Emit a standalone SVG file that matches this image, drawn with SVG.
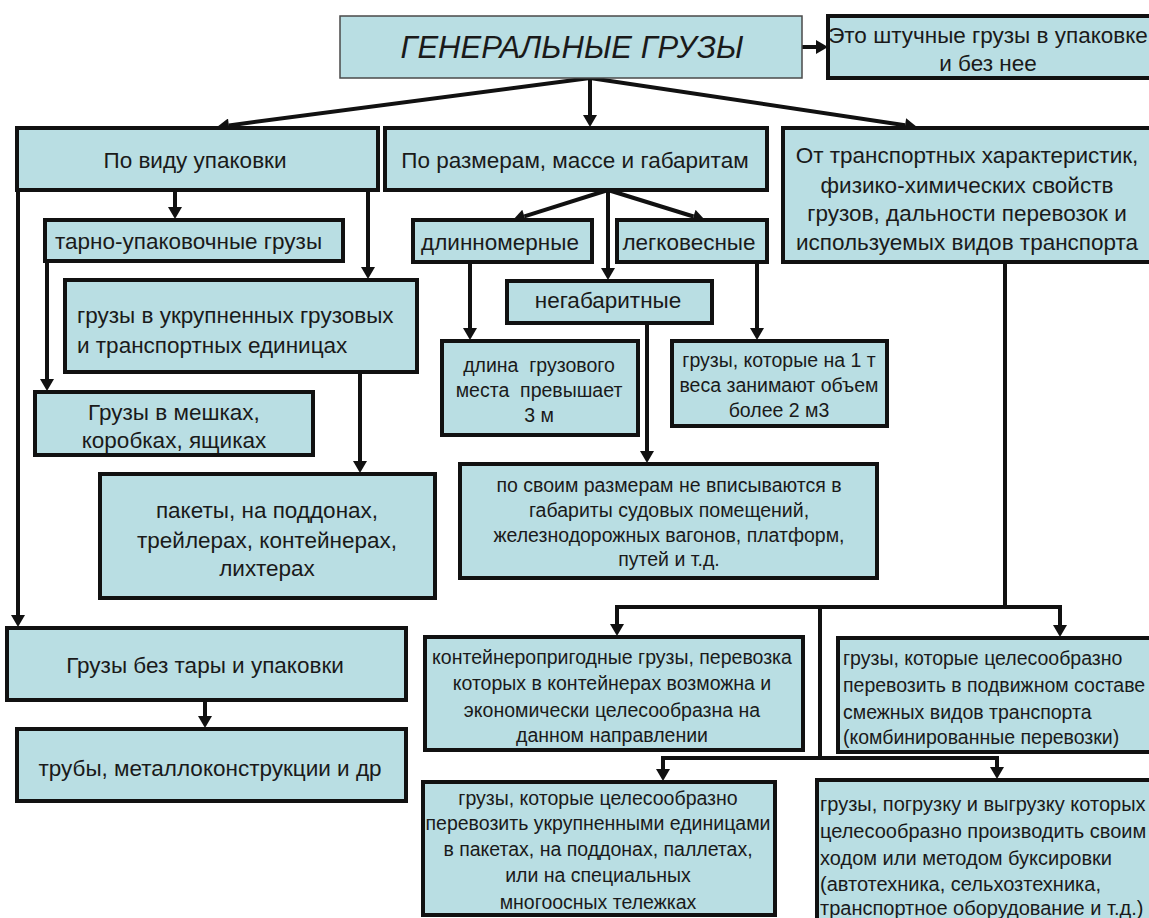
<svg xmlns="http://www.w3.org/2000/svg" width="1149" height="918" viewBox="0 0 1149 918">
  <style>
    .box { fill: #b9dee3; stroke: #111; stroke-width: 4; }
    .head { fill: #b9dee3; stroke: #4a4a4a; stroke-width: 1.5; }
    .t { font-family: "Liberation Sans", Arial, sans-serif; fill: #1a1a1a; }
    .c { text-anchor: middle; }
    .big { font-size: 22.5px; }
    .sm { font-size: 19.5px; }
    .sm2 { font-size: 20px; }
    .link { fill: none; stroke: #111; stroke-width: 4; }
    .arr { marker-end: url(#arrow); }
  </style>
  <defs>
    <marker id="arrow" markerUnits="userSpaceOnUse" markerWidth="13" markerHeight="14" viewBox="0 0 12 14" refX="0" refY="7" orient="auto">
      <path d="M0,0 L12,7 L0,14 z" fill="#111"/>
    </marker>
  </defs>
  <rect width="1149" height="918" fill="#ffffff"/>

  <!-- connectors -->
  <g id="connectors">
    <line class="link arr" x1="802" y1="47" x2="816" y2="47"/>
    <line class="link arr" x1="590" y1="78" x2="228.9" y2="125.4"/>
    <line class="link arr" x1="590" y1="78" x2="590" y2="115"/>
    <line class="link arr" x1="590" y1="78" x2="905.1" y2="125.2"/>
    <line class="link arr" x1="175" y1="190" x2="175" y2="207"/>
    <line class="link arr" x1="368" y1="190" x2="368" y2="267"/>
    <line class="link arr" x1="18" y1="190" x2="18" y2="615"/>
    <line class="link arr" x1="47" y1="261" x2="47" y2="379"/>
    <line class="link arr" x1="360" y1="372" x2="360" y2="461"/>
    <line class="link arr" x1="205" y1="700" x2="205" y2="716"/>
    <line class="link arr" x1="608" y1="190" x2="524.4" y2="216.4"/>
    <line class="link arr" x1="608" y1="190" x2="608" y2="268"/>
    <line class="link arr" x1="608" y1="190" x2="693.5" y2="216.5"/>
    <line class="link arr" x1="470" y1="262" x2="470" y2="328"/>
    <line class="link arr" x1="757" y1="262" x2="757" y2="328"/>
    <line class="link arr" x1="647" y1="323" x2="647" y2="451"/>
    <line class="link" x1="1005" y1="262" x2="1005" y2="607"/>
    <line class="link" x1="615" y1="607" x2="1062" y2="607"/>
    <line class="link arr" x1="617" y1="605" x2="617" y2="624"/>
    <line class="link arr" x1="1060" y1="605" x2="1060" y2="625"/>
    <line class="link" x1="820" y1="607" x2="820" y2="758"/>
    <line class="link" x1="661" y1="758" x2="999" y2="758"/>
    <line class="link arr" x1="663" y1="756" x2="663" y2="769"/>
    <line class="link arr" x1="997" y1="756" x2="997" y2="767"/>
  </g>

  <g id="n-general">
    <rect class="head" x="340" y="16" width="462" height="62"/>
    <text class="t c" x="572" y="58" font-size="31" font-style="italic">ГЕНЕРАЛЬНЫЕ ГРУЗЫ</text>
  </g>
  <g id="n-definition">
    <rect class="box" x="828" y="16" width="340" height="62"/>
    <text class="t c big" x="988" y="43">Это штучные грузы в упаковке</text>
    <text class="t c big" x="988" y="71">и без нее</text>
  </g>

  <g id="n-packing">
    <rect class="box" x="17" y="128" width="361" height="62"/>
    <text class="t c big" x="195" y="168">По виду упаковки</text>
  </g>
  <g id="n-size">
    <rect class="box" x="385" y="128" width="382" height="62"/>
    <text class="t c big" x="575" y="168">По размерам, массе и габаритам</text>
  </g>
  <g id="n-transport">
    <rect class="box" x="783" y="128" width="380" height="134"/>
    <text class="t c big" x="967" y="163">От транспортных характеристик,</text>
    <text class="t c big" x="967" y="193">физико-химических свойств</text>
    <text class="t c big" x="967" y="221">грузов, дальности перевозок и</text>
    <text class="t c big" x="967" y="250">используемых видов транспорта</text>
  </g>

  <g id="n-tare">
    <rect class="box" x="45" y="220" width="298" height="41"/>
    <text class="t big" x="55" y="249">тарно-упаковочные грузы</text>
  </g>
  <g id="n-units">
    <rect class="box" x="65" y="280" width="352" height="92"/>
    <text class="t big" x="77" y="323">грузы в укрупненных грузовых</text>
    <text class="t big" x="77" y="353">и транспортных единицах</text>
  </g>
  <g id="n-bags">
    <rect class="box" x="35" y="392" width="278" height="63"/>
    <text class="t c big" x="174" y="420">Грузы в мешках,</text>
    <text class="t c big" x="174" y="448">коробках, ящиках</text>
  </g>
  <g id="n-pallets">
    <rect class="box" x="100" y="474" width="335" height="124"/>
    <text class="t c big" x="267" y="518">пакеты, на поддонах,</text>
    <text class="t c big" x="267" y="548">трейлерах, контейнерах,</text>
    <text class="t c big" x="267" y="576">лихтерах</text>
  </g>
  <g id="n-bulk">
    <rect class="box" x="7" y="628" width="399" height="72"/>
    <text class="t c big" x="205" y="673">Грузы без тары и упаковки</text>
  </g>
  <g id="n-pipes">
    <rect class="box" x="17" y="729" width="389" height="72"/>
    <text class="t c big" x="210" y="776">трубы, металлоконструкции и др</text>
  </g>

  <g id="n-long">
    <rect class="box" x="413" y="220" width="179" height="42"/>
    <text class="t c big" x="500" y="250">длинномерные</text>
  </g>
  <g id="n-light">
    <rect class="box" x="617" y="220" width="150" height="42"/>
    <text class="t c big" x="689" y="250">легковесные</text>
  </g>
  <g id="n-oversize">
    <rect class="box" x="507" y="281" width="205" height="42"/>
    <text class="t c big" x="608" y="308">негабаритные</text>
  </g>
  <g id="n-long-desc">
    <rect class="box" x="442" y="341" width="196" height="94"/>
    <text class="t c sm" x="539" y="372" xml:space="preserve">длина  грузового</text>
    <text class="t c sm" x="539" y="397" xml:space="preserve">места  превышает</text>
    <text class="t c sm" x="539" y="422">3 м</text>
  </g>
  <g id="n-light-desc">
    <rect class="box" x="672" y="341" width="215" height="85"/>
    <text class="t c sm" x="779" y="367">грузы, которые на 1 т</text>
    <text class="t c sm" x="779" y="392">веса занимают объем</text>
    <text class="t c sm" x="779" y="417">более 2 м3</text>
  </g>
  <g id="n-oversize-desc">
    <rect class="box" x="460" y="464" width="417" height="114"/>
    <text class="t c sm" x="669" y="492">по своим размерам не вписываются в</text>
    <text class="t c sm" x="669" y="517">габариты судовых помещений,</text>
    <text class="t c sm" x="669" y="542">железнодорожных вагонов, платформ,</text>
    <text class="t c sm" x="669" y="566">путей и т.д.</text>
  </g>

  <g id="n-container">
    <rect class="box" x="425" y="637" width="378" height="113"/>
    <text class="t c sm" x="612" y="664">контейнеропригодные грузы, перевозка</text>
    <text class="t c sm" x="612" y="690">которых в контейнерах возможна и</text>
    <text class="t c sm" x="612" y="717">экономически целесообразна на</text>
    <text class="t c sm" x="612" y="742">данном направлении</text>
  </g>
  <g id="n-combined">
    <rect class="box" x="838" y="638" width="330" height="114"/>
    <text class="t sm" x="843" y="665">грузы, которые целесообразно</text>
    <text class="t sm" x="843" y="692">перевозить в подвижном составе</text>
    <text class="t sm" x="843" y="719">смежных видов транспорта</text>
    <text class="t sm" x="843" y="744">(комбинированные перевозки)</text>
  </g>
  <g id="n-enlarged">
    <rect class="box" x="423" y="782" width="352" height="133"/>
    <text class="t c sm" x="598" y="805">грузы, которые целесообразно</text>
    <text class="t c sm" x="598" y="830">перевозить укрупненными единицами</text>
    <text class="t c sm" x="598" y="856">в пакетах, на поддонах, паллетах,</text>
    <text class="t c sm" x="598" y="882">или на специальных</text>
    <text class="t c sm" x="598" y="909">многоосных тележках</text>
  </g>
  <g id="n-selfdriven">
    <rect class="box" x="817" y="780" width="350" height="160"/>
    <text class="t sm2" x="820" y="811">грузы, погрузку и выгрузку которых</text>
    <text class="t sm2" x="820" y="838">целесообразно производить своим</text>
    <text class="t sm2" x="820" y="865">ходом или методом буксировки</text>
    <text class="t sm2" x="820" y="891">(автотехника, сельхозтехника,</text>
    <text class="t sm2" x="820" y="915">транспортное оборудование и т.д.)</text>
  </g>
</svg>
